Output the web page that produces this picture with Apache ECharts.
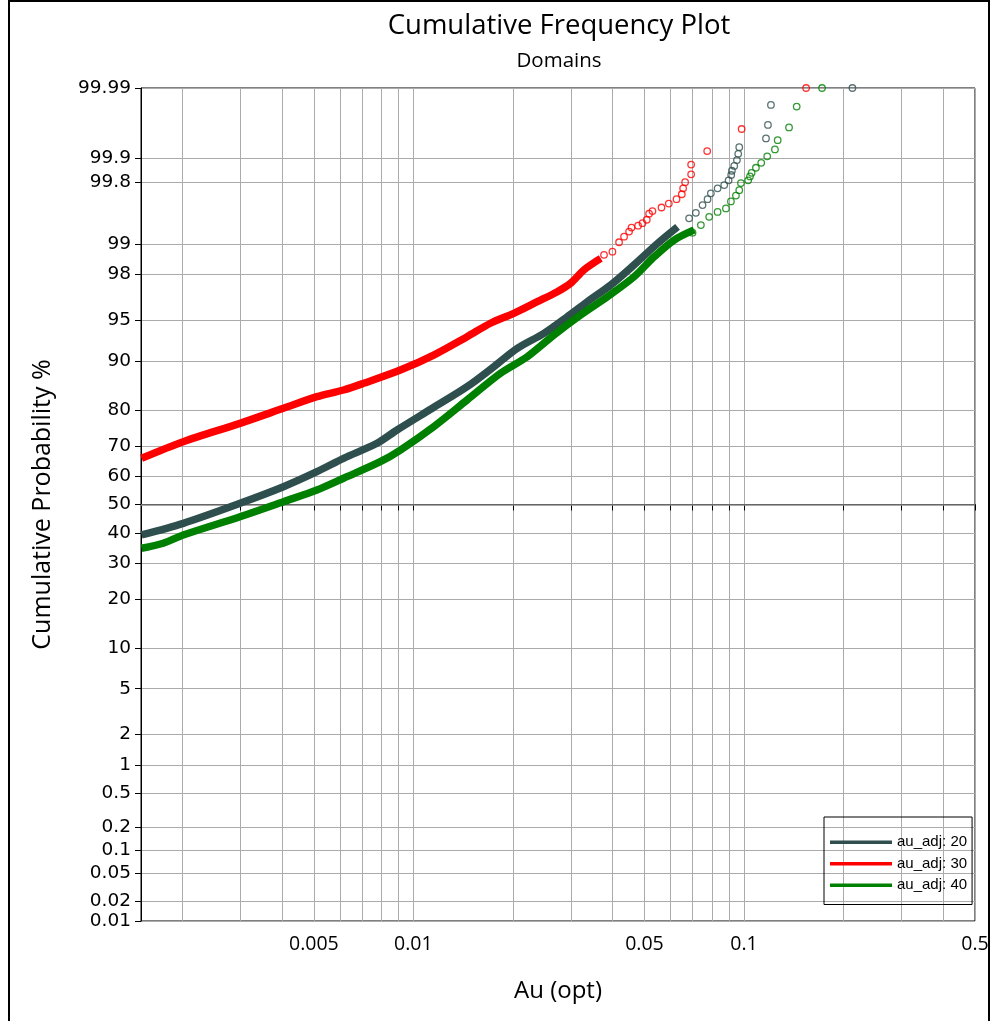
<!DOCTYPE html>
<html><head><meta charset="utf-8">
<script src="https://cdn.jsdelivr.net/npm/echarts@6/dist/echarts.min.js"></script>
<style>html,body{margin:0;padding:0;background:#fff}#c{width:992px;height:1021px}</style>
</head><body><div id="c"></div>
<script>
// ---------- data ----------
const seriesNames = ['au_adj: 20', 'au_adj: 30', 'au_adj: 40'];
const seriesColors = ['#2F4F4F', '#FF0000', '#008000'];
const yTickLabels = ['0.01','0.02','0.05','0.1','0.2','0.5','1','2','5','10','20','30','40','50','60','70','80','90','95','98','99','99.8','99.9','99.99'];
const xGridValues = [0.002,0.003,0.004,0.005,0.006,0.007,0.008,0.009,0.01,0.02,0.03,0.04,0.05,0.06,0.07,0.08,0.09,0.1,0.2,0.3,0.4,0.5];
const xLabelValues = [0.005, 0.01, 0.05, 0.1, 0.5];
const xMin = 0.0015, xMax = 0.5;

// [Au, cumulative probability %]  dense body of each curve
const au20Dense = [[0.001506,39.27],[0.002013,43.33],[0.002990,50.43],[0.004046,56.31],[0.005108,61.52],[0.006148,66.00],[0.007762,70.76],[0.008925,74.70],[0.01138,80.43],[0.01454,85.36],[0.01751,89.07],[0.02062,91.84],[0.02483,93.68],[0.02922,95.32],[0.03360,96.49],[0.03954,97.50],[0.04652,98.38],[0.05477,99.01],[0.06297,99.34]];
const au30Dense = [[0.001506,66.00],[0.002013,71.25],[0.002990,76.57],[0.004046,80.48],[0.005108,83.21],[0.006148,84.67],[0.007071,86.04],[0.009134,88.51],[0.01152,90.90],[0.01454,93.30],[0.01711,94.72],[0.02013,95.61],[0.02371,96.49],[0.02726,97.13],[0.02991,97.59],[0.03282,98.19],[0.03687,98.60]];
const au40Dense = [[0.001506,34.79],[0.001751,36.45],[0.002013,39.27],[0.002990,45.66],[0.004046,51.0],[0.005108,55.15],[0.006148,59.25],[0.007943,64.88],[0.009134,68.67],[0.01152,75.64],[0.01454,82.46],[0.01835,87.93],[0.02211,90.65],[0.02662,93.49],[0.03207,95.47],[0.03864,96.82],[0.04652,97.90],[0.05349,98.65],[0.06150,99.09],[0.07070,99.29]];
// upper tails (individual samples)
const au20Tail = [[0.06826,99.47],[0.07153,99.54],[0.07496,99.625],[0.07762,99.68],[0.07943,99.727],[0.08324,99.762],[0.08717,99.783],[0.08987,99.81],[0.09152,99.837],[0.09197,99.856],[0.09346,99.875],[0.09523,99.895],[0.09610,99.913],[0.09679,99.929],[0.1166,99.946],[0.1182,99.965],[0.1207,99.982],[0.2129,99.99]];
const au30Tail = [[0.03773,98.71],[0.04001,98.80],[0.04190,99.04],[0.04339,99.16],[0.04493,99.26],[0.04569,99.33],[0.04784,99.36],[0.04932,99.40],[0.05083,99.45],[0.05164,99.53],[0.05288,99.56],[0.05631,99.60],[0.05925,99.64],[0.06253,99.68],[0.06487,99.72],[0.06547,99.762],[0.06638,99.80],[0.06922,99.84],[0.06922,99.88],[0.07742,99.92],[0.09840,99.96],[0.1542,99.99]];
const au40Tail = [[0.06990,99.24],[0.07409,99.37],[0.07850,99.49],[0.08324,99.55],[0.08821,99.59],[0.09133,99.66],[0.09458,99.71],[0.09679,99.75],[0.09793,99.795],[0.1030,99.81],[0.1043,99.83],[0.1055,99.847],[0.1087,99.868],[0.1128,99.886],[0.1176,99.906],[0.1241,99.924],[0.1265,99.943],[0.1369,99.962],[0.1444,99.981],[0.1723,99.99]];

// ---------- probability (normal-score) transform ----------
function normInv(p){
  const a=[-3.969683028665376e+01,2.209460984245205e+02,-2.759285104469687e+02,1.383577518672690e+02,-3.066479806614716e+01,2.506628277459239e+00];
  const b=[-5.447609879822406e+01,1.615858368580409e+02,-1.556989798598866e+02,6.680131188771972e+01,-1.328068155288572e+01];
  const c=[-7.784894002430293e-03,-3.223964580411365e-01,-2.400758277161838e+00,-2.549732539343734e+00,4.374664141464968e+00,2.938163982698783e+00];
  const d=[7.784695709041462e-03,3.224671290700398e-01,2.445134137142996e+00,3.754408661907416e+00];
  const pl=0.02425, ph=1-pl; let q,r;
  if(p<pl){q=Math.sqrt(-2*Math.log(p));return (((((c[0]*q+c[1])*q+c[2])*q+c[3])*q+c[4])*q+c[5])/((((d[0]*q+d[1])*q+d[2])*q+d[3])*q+1);}
  if(p<=ph){q=p-0.5;r=q*q;return (((((a[0]*r+a[1])*r+a[2])*r+a[3])*r+a[4])*r+a[5])*q/(((((b[0]*r+b[1])*r+b[2])*r+b[3])*r+b[4])*r+1);}
  q=Math.sqrt(-2*Math.log(1-p));return -(((((c[0]*q+c[1])*q+c[2])*q+c[3])*q+c[4])*q+c[5])/((((d[0]*q+d[1])*q+d[2])*q+d[3])*q+1);
}
const pz = s => normInv(parseFloat(s)/100);
const yTickZ = yTickLabels.map(pz);
const yMin = yTickZ[0], yMax = yTickZ[yTickZ.length-1];
const toXY = arr => arr.map(d => [d[0], pz(d[1])]);
function yLabel(v){ let bi=0,bd=1e9; yTickZ.forEach((z,i)=>{const dd=Math.abs(z-v); if(dd<bd){bd=dd;bi=i;}}); return yTickLabels[bi]; }
function xLabel(v){ let bi=0,bd=1e9; xLabelValues.forEach((x,i)=>{const dd=Math.abs(Math.log10(x)-Math.log10(v)); if(dd<bd){bd=dd;bi=i;}}); return String(xLabelValues[bi]); }

const dense = [au20Dense, au30Dense, au40Dense];
const tails = [au20Tail, au30Tail, au40Tail];
const series = [];
for (let i=0;i<3;i++){
  series.push({
    name: seriesNames[i], type:'line', data: toXY(dense[i]), color: seriesColors[i],
    symbol:'none', smooth:0.3, lineStyle:{width:7.5, color: seriesColors[i]}, z: 2+i,
    markLine: i===0 ? {silent:true, symbol:'none', z:1, label:{show:false},
      lineStyle:{color:'#8a8a8a', width:1.5, type:'solid'}, data:[{yAxis: pz('50')}]} : undefined
  });
  series.push({
    name: seriesNames[i], type:'scatter', data: toXY(tails[i]), color: seriesColors[i],
    symbol:'circle', symbolSize:6.5, z: 2+i,
    itemStyle:{color:'rgba(255,255,255,0)', borderColor: seriesColors[i], borderWidth:1.3}
  });
}

const chart = echarts.init(document.getElementById('c'), null, {renderer:'canvas'});
chart.setOption({
  animation:false,
  backgroundColor:'#fff',
  title:[
    {text:'Cumulative Frequency Plot', left:554, top:7, textAlign:'center',
     textStyle:{fontFamily:'Open Sans', fontSize:27.5, fontWeight:'normal', color:'#000'}},
    {text:'Domains', left:554, top:46, textAlign:'center',
     textStyle:{fontFamily:'Open Sans', fontSize:20.5, fontWeight:'normal', color:'#000'}}
  ],
  graphic:[{type:'rect', silent:true, shape:{x:9,y:1,width:980,height:1040}, style:{fill:'none', stroke:'#000', lineWidth:2}}],
  legend:{
    data: seriesNames, orient:'vertical', left:824, top:817,
    icon:'rect', itemWidth:62, itemHeight:3.5, itemGap:5,
    padding:[17,5,11,6], borderColor:'#000', borderWidth:1,
    selectedMode:false,
    textStyle:{fontFamily:'Liberation Sans', fontSize:15, color:'#000', lineHeight:16.5}
  },
  grid:{left:141, right:17, top:88, bottom:100, show:true, borderColor:'#000', borderWidth:1, backgroundColor:'rgba(0,0,0,0)'},
  xAxis:{
    type:'log', min:xMin, max:xMax, logBase:10,
    name:'Au (opt)', nameLocation:'middle', nameGap:58,
    nameTextStyle:{fontFamily:'Open Sans', fontSize:24, color:'#000'},
    axisLine:{show:true, lineStyle:{color:'#000', width:1}},
    axisTick:{show:true, customValues:xGridValues, length:6, lineStyle:{color:'#000'}},
    axisLabel:{customValues:xLabelValues, formatter:xLabel, fontFamily:'Open Sans', fontSize:19.5, color:'#000', margin:13},
    splitLine:{show:true, lineStyle:{color:'#ababab', width:1}},
    minorTick:{show:false}, minorSplitLine:{show:false}
  },
  yAxis:{
    type:'value', min:yMin, max:yMax,
    name:'Cumulative Probability %', nameLocation:'middle', nameGap:86,
    nameTextStyle:{fontFamily:'Open Sans', fontSize:25, color:'#000'},
    axisLine:{show:true, lineStyle:{color:'#000', width:1}},
    axisTick:{show:true, customValues:yTickZ, length:6, lineStyle:{color:'#000'}},
    axisLabel:{customValues:yTickZ, formatter:yLabel, fontFamily:'DejaVu Sans', fontSize:18.5, color:'#000', margin:10},
    splitLine:{show:true, lineStyle:{color:'#ababab', width:1}}
  },
  series: series
});
</script>
</body></html>
